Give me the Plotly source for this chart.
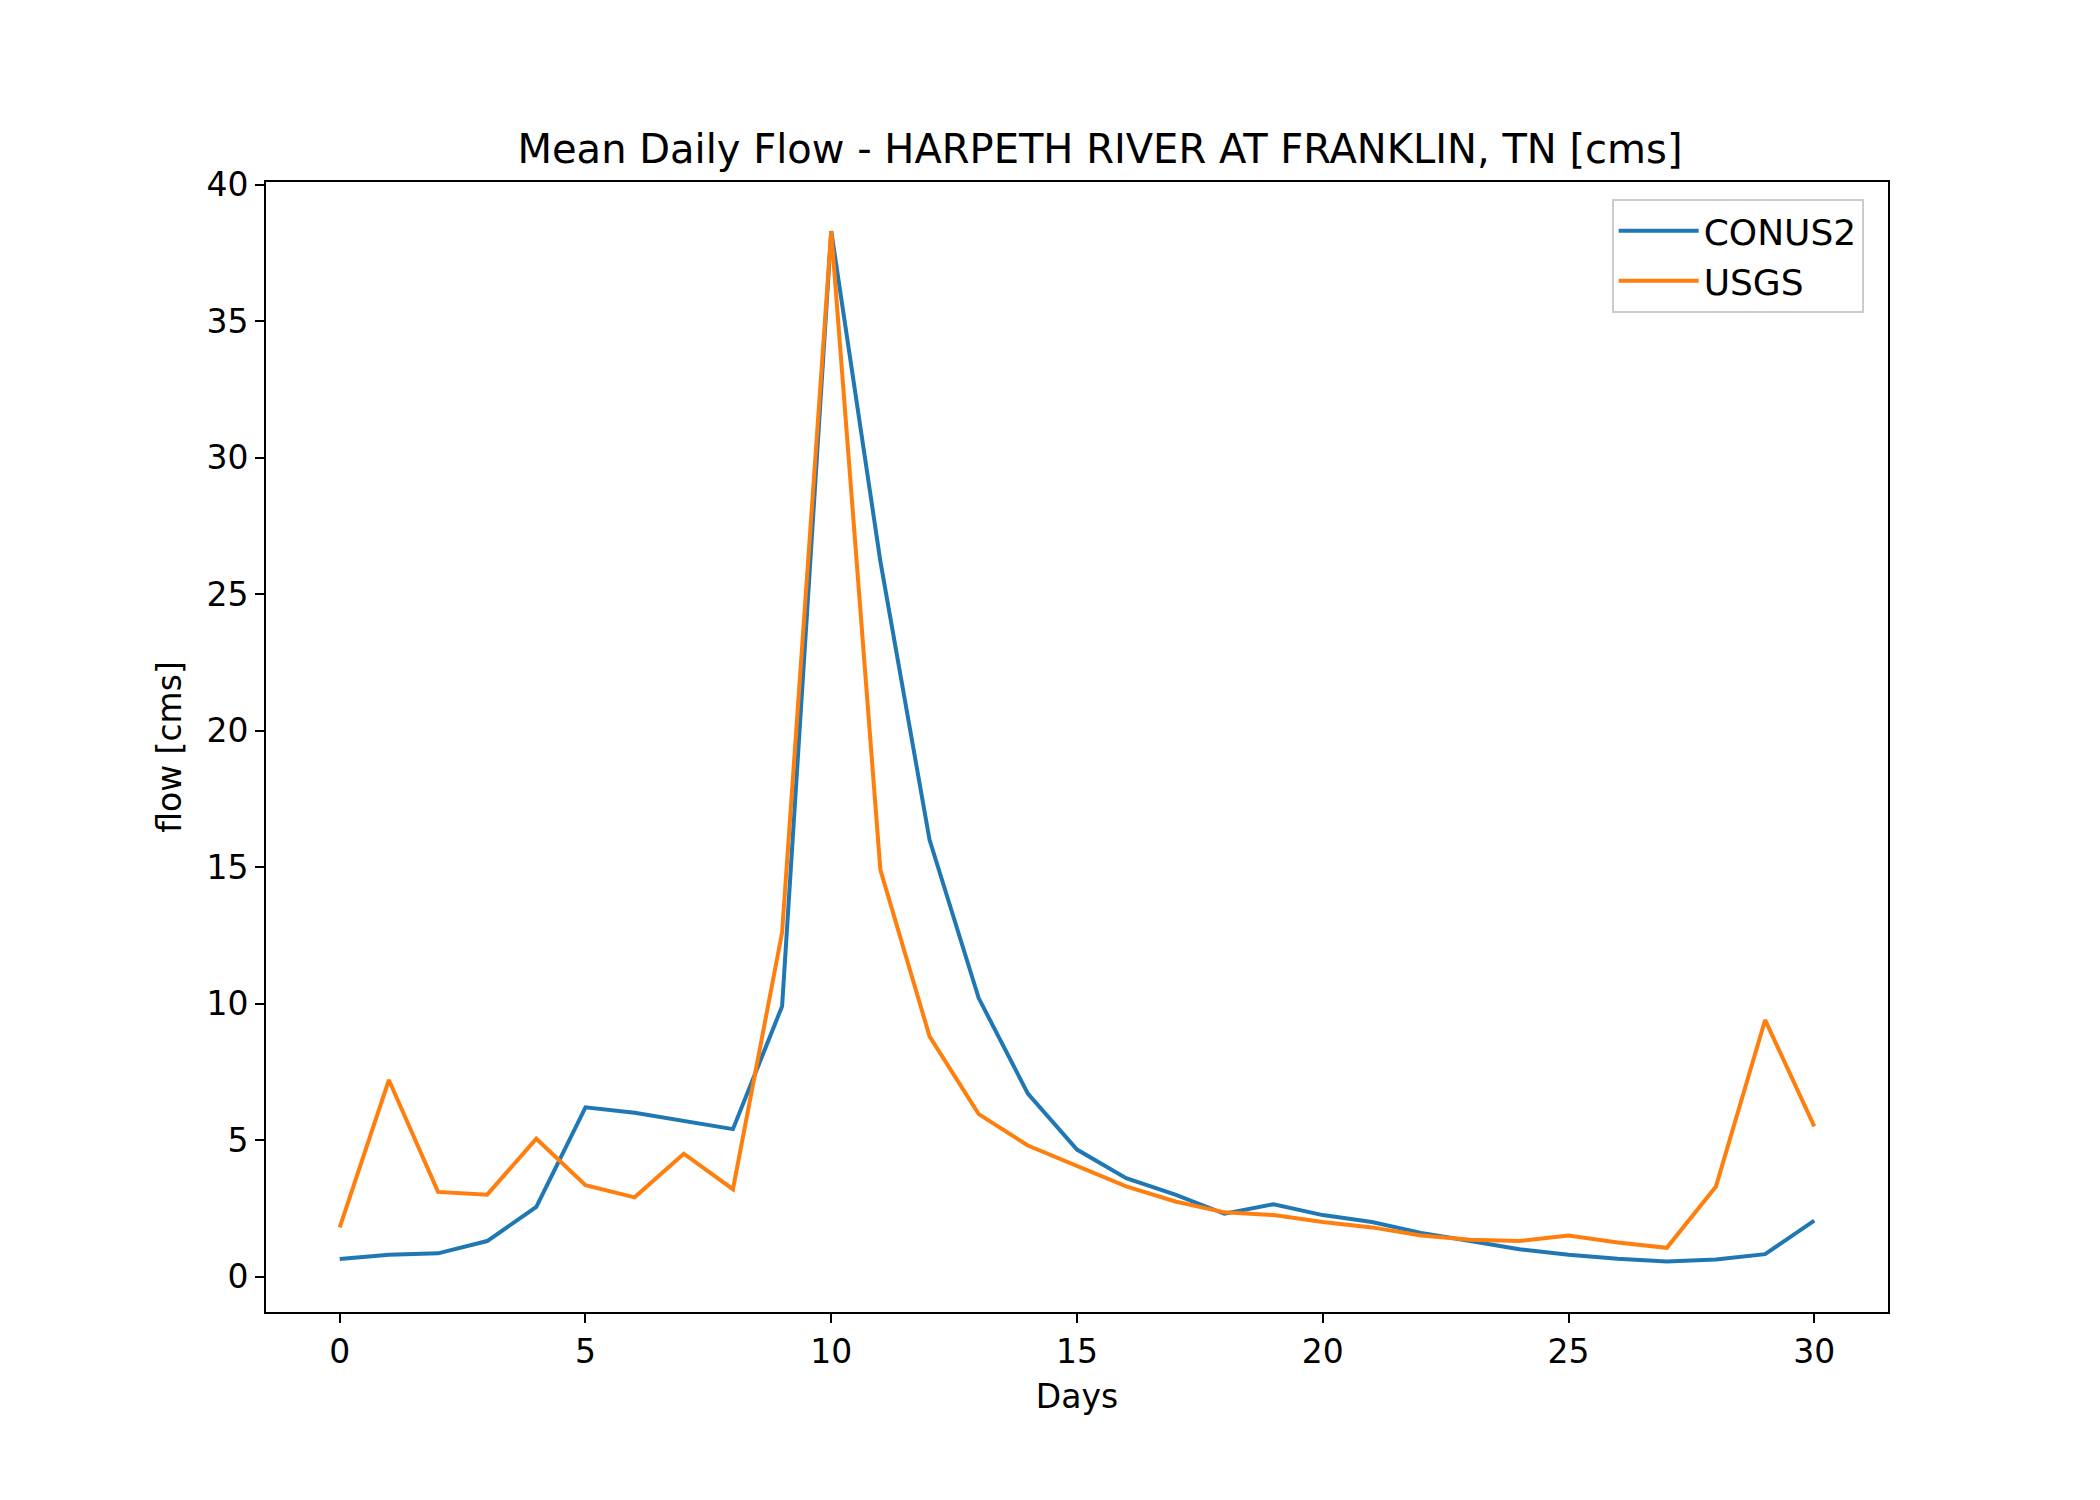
import plotly.graph_objects as go

days = list(range(31))
conus2 = [0.64, 0.8, 0.85, 1.3, 2.55, 6.2, 6.0, 5.7, 5.4, 9.9, 38.3, 26.2, 16.0, 10.2, 6.7, 4.65,
          3.6, 3.0, 2.3, 2.65, 2.25, 2.0, 1.6, 1.3, 1.0, 0.8, 0.65, 0.55, 0.62, 0.82, 2.05]
usgs = [1.8, 7.2, 3.1, 3.0, 5.05, 3.35, 2.9, 4.5, 3.2, 12.6, 38.3, 14.9, 8.8, 5.95, 4.8, 4.05,
        3.3, 2.75, 2.35, 2.25, 2.0, 1.8, 1.5, 1.35, 1.3, 1.5, 1.25, 1.05, 3.3, 9.4, 5.5]

fig = go.Figure()
fig.add_trace(go.Scatter(x=days, y=conus2, mode="lines", name="CONUS2",
                         line=dict(color="#1f77b4", width=4)))
fig.add_trace(go.Scatter(x=days, y=usgs, mode="lines", name="USGS",
                         line=dict(color="#ff7f0e", width=4)))

axis = dict(showgrid=False, zeroline=False, showline=True, linecolor="black", linewidth=2,
            mirror=True, ticks="outside", ticklen=9, tickwidth=2, tickcolor="black",
            tickfont=dict(size=33, color="black"))
fig.update_layout(
    width=2100, height=1500, plot_bgcolor="white", paper_bgcolor="white",
    font=dict(family="DejaVu Sans", color="black"),
    margin=dict(l=258, r=220, t=174, b=196),
    title=dict(text="Mean Daily Flow - HARPETH RIVER AT FRANKLIN, TN [cms]", x=0.52, xanchor="center",
               y=0.906, yanchor="middle", font=dict(size=40)),
    xaxis=dict(axis, range=[-1.5, 31.5], tickvals=[0, 5, 10, 15, 20, 25, 30],
               title=dict(text="Days", font=dict(size=33))),
    yaxis=dict(axis, range=[-1.3, 40.1], tickvals=[0, 5, 10, 15, 20, 25, 30, 35, 40],
               title=dict(text="flow [cms]", font=dict(size=33))),
    legend=dict(x=0.985, y=0.985, xanchor="right", yanchor="top", bgcolor="white",
                bordercolor="#cccccc", borderwidth=2, font=dict(size=36),
                itemwidth=80, tracegroupgap=10),
)
fig.write_html("out.html")
